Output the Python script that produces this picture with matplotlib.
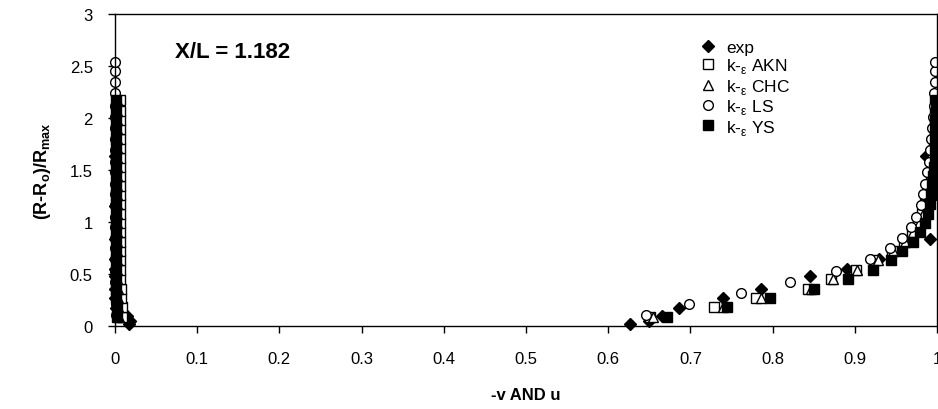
import matplotlib.pyplot as plt

plt.rcParams['font.family'] = ['Liberation Sans', 'DejaVu Sans']
plt.rcParams['mathtext.fontset'] = 'custom'
plt.rcParams['mathtext.rm'] = 'Liberation Sans'
plt.rcParams['mathtext.bf'] = 'Liberation Sans:bold'

# experiment: radial stations with -v and u
r_exp = [0.02, 0.05, 0.10, 0.17, 0.27, 0.36, 0.48, 0.55, 0.64, 0.84, 1.15, 1.63]
v_exp = [0.017, 0.018, 0.014, 0.001, 0.0, 0.0, 0.0, 0.0, 0.0, 0.0, 0.0, 0.0]
u_exp = [0.627, 0.650, 0.665, 0.686, 0.740, 0.786, 0.845, 0.890, 0.930, 0.992, 0.990, 0.987]

# model grid (AKN, CHC, YS)
r_model = [0.09, 0.18, 0.27, 0.36, 0.45, 0.54, 0.63, 0.72, 0.81, 0.90, 0.99, 1.08,
           1.17, 1.26, 1.35, 1.44, 1.53, 1.62, 1.71, 1.80, 1.89, 1.98, 2.07, 2.17]

v_akn = [0.009, 0.008, 0.007, 0.007, 0.006, 0.006, 0.006, 0.006, 0.006, 0.006, 0.006, 0.006,
         0.006, 0.006, 0.006, 0.006, 0.006, 0.006, 0.006, 0.006, 0.006, 0.006, 0.006, 0.006]
u_akn = [0.651, 0.729, 0.780, 0.843, 0.871, 0.902, 0.925, 0.945, 0.960, 0.970, 0.977, 0.982,
         0.986, 0.989, 0.991, 0.993, 0.994, 0.995, 0.996, 0.997, 0.997, 0.998, 0.998, 0.998]

v_chc = [0.005, 0.004, 0.004, 0.004, 0.003, 0.003, 0.003, 0.003, 0.003, 0.003, 0.003, 0.003,
         0.003, 0.003, 0.003, 0.003, 0.003, 0.003, 0.003, 0.003, 0.003, 0.003, 0.003, 0.003]
u_chc = [0.655, 0.740, 0.786, 0.847, 0.873, 0.903, 0.928, 0.947, 0.961, 0.971, 0.978, 0.983,
         0.987, 0.990, 0.992, 0.993, 0.994, 0.995, 0.996, 0.997, 0.997, 0.998, 0.998, 0.998]

v_ys = [0.002, 0.002, 0.001, 0.001, 0.001, 0.001, 0.001, 0.001, 0.001, 0.001, 0.001, 0.001,
        0.001, 0.001, 0.001, 0.001, 0.001, 0.001, 0.001, 0.001, 0.001, 0.001, 0.001, 0.001]
u_ys = [0.671, 0.745, 0.797, 0.850, 0.892, 0.922, 0.944, 0.958, 0.971, 0.979, 0.985, 0.989,
        0.991, 0.993, 0.994, 0.995, 0.996, 0.997, 0.997, 0.998, 0.998, 0.998, 0.999, 0.999]

# LS model uses its own grid
r_ls = [0.11, 0.21, 0.32, 0.42, 0.53, 0.64, 0.75, 0.85, 0.95, 1.05, 1.16, 1.27,
        1.37, 1.48, 1.58, 1.69, 1.80, 1.90, 2.01, 2.12, 2.24, 2.35, 2.45, 2.54]
v_ls = [0.001, 0.001, 0.001, 0.0, 0.0, 0.0, 0.0, 0.0, 0.0, 0.0, 0.0, 0.0,
        0.0, 0.0, 0.0, 0.0, 0.0, 0.0, 0.0, 0.0, 0.0, 0.0, 0.0, 0.0]
u_ls = [0.646, 0.698, 0.761, 0.821, 0.877, 0.918, 0.943, 0.958, 0.969, 0.975, 0.980, 0.983,
        0.986, 0.988, 0.990, 0.992, 0.993, 0.994, 0.995, 0.996, 0.996, 0.997, 0.997, 0.997]

eps = r'$_{\mathrm{ε}}$'
series = [
    ('exp', r_exp, v_exp, u_exp, dict(marker='D', ms=6.5, mfc='black', mec='black')),
    ('k-' + eps + ' AKN', r_model, v_akn, u_akn, dict(marker='s', ms=7.5, mfc='white', mec='black', mew=1)),
    ('k-' + eps + ' CHC', r_model, v_chc, u_chc, dict(marker='^', ms=7.5, mfc='white', mec='black', mew=1)),
    ('k-' + eps + ' LS', r_ls, v_ls, u_ls, dict(marker='o', ms=7, mfc='white', mec='black', mew=1)),
    ('k-' + eps + ' YS', r_model, v_ys, u_ys, dict(marker='s', ms=7.5, mfc='black', mec='black')),
]

fig = plt.figure(figsize=(9.38, 4.10), dpi=100)
ax = fig.add_axes([0.1226, 0.2024, 0.8763, 0.761])

for label, r, v, u, style in series:
    ax.plot(v + u, r + r, linestyle='none', label=label, clip_on=False, **style)

ax.set_xlim(0, 1)
ax.set_ylim(0, 3)
ax.set_xticks([i / 10 for i in range(11)])
ax.set_xticklabels(['0', '0.1', '0.2', '0.3', '0.4', '0.5', '0.6', '0.7', '0.8', '0.9', '1'])
ax.set_yticks([0, 0.5, 1, 1.5, 2, 2.5, 3])
ax.set_yticklabels(['0', '0.5', '1', '1.5', '2', '2.5', '3'])
ax.tick_params(direction='out', length=5, width=1, labelsize=12)
ax.tick_params(axis='x', pad=13)
ax.tick_params(axis='y', pad=11)
for sp in ax.spines.values():
    sp.set_linewidth(1)

ax.set_xlabel('-v AND u', fontsize=12, fontweight='bold', labelpad=15)
ax.set_ylabel(r'(R-R$_\mathbf{o}$)/R$_\mathbf{max}$', fontsize=13, fontweight='bold', labelpad=12)

ax.text(0.073, 2.64, 'X/L = 1.182', fontsize=16, fontweight='bold', va='center', ha='left')

ax.legend(loc='upper left', bbox_to_anchor=(0.703, 0.945), frameon=False, fontsize=12.5,
          handlelength=0.8, handletextpad=0.6, labelspacing=0.08, borderpad=0)

fig.savefig('out.png', dpi=100)
